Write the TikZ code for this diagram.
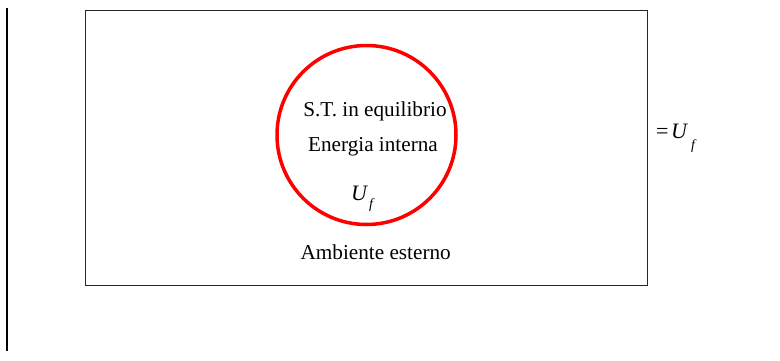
\documentclass[tikz,border=0pt]{standalone}
\usepackage{fontspec}
\setmainfont{Liberation Serif}
\tikzset{
  lbl/.style={anchor=base, inner sep=0pt, font=\fontsize{21.2}{25}\selectfont},
  sym/.style={anchor=base west, inner sep=0pt, font=\fontsize{22}{26}\selectfont\itshape},
  sub/.style={anchor=base west, inner sep=0pt, font=\fontsize{14}{16}\selectfont\itshape},
}
\begin{document}
\begin{tikzpicture}[x=1pt,y=-1pt]
\useasboundingbox (0,0) rectangle (780,360);
\draw[line width=2pt] (6.5,8) coordinate (ltop) -- (6.5,351) coordinate (lbot);
\node[draw=black!85, line width=0.9pt, minimum width=562pt, minimum height=275pt, inner sep=0pt, anchor=north west] (env) at (85,10) {};
\node[draw=red, line width=3.5pt, circle, minimum size=179pt, inner sep=0pt] (sys) at (366.5,135) {};
\node[lbl] (t1) at (375,116) {S.T. in equilibrio};
\node[lbl] (t2) at (373,151) {Energia interna};
\node[sym] (u1) at (351,200) {U};
\node[sub] (f1) at (369,208) {f};
\node[lbl] (t3) at (375.7,259) {Ambiente esterno};
\node[anchor=base west, inner sep=0pt, font=\fontsize{22}{26}\selectfont] (eq) at (656,138) {=};
\node[sym] (u2) at (671,138) {U};
\node[sub] (f2) at (691,149) {f};
\end{tikzpicture}
\end{document}
